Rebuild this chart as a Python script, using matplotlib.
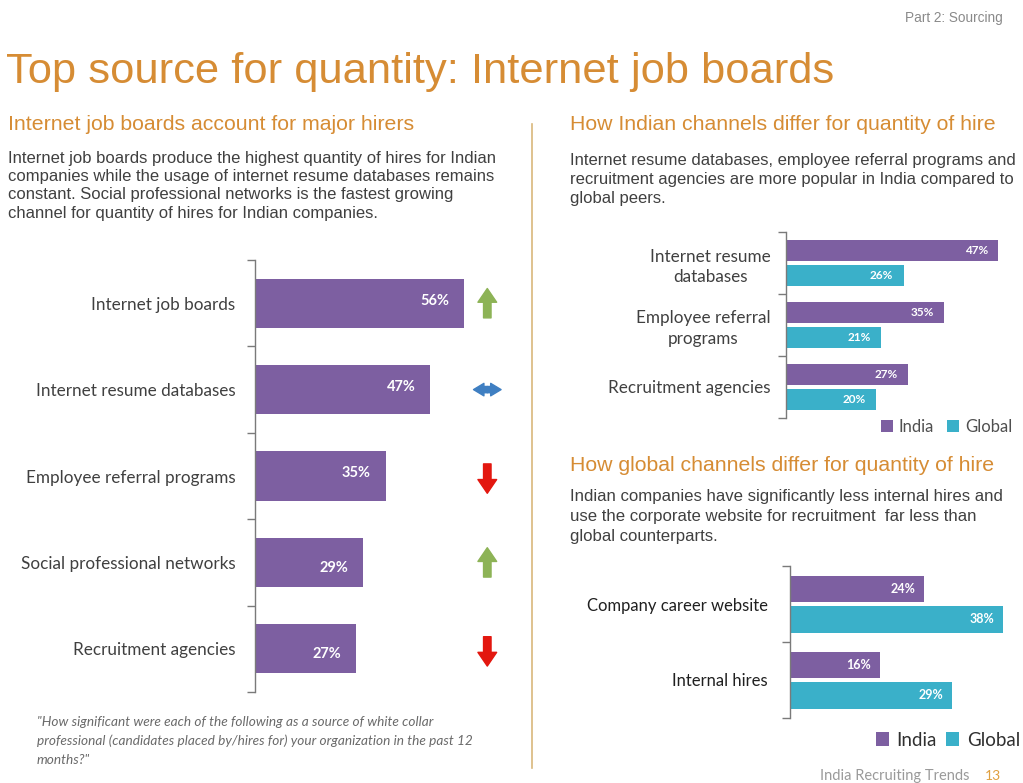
import matplotlib
matplotlib.use("Agg")
import matplotlib.pyplot as plt
from matplotlib import font_manager

# データ
left_categories = ["Internet job boards", "Internet resume databases", "Employee referral programs",
                   "Social professional networks", "Recruitment agencies"]
left_values = [56, 47, 35, 29, 27]
left_trend = ["up", "flat", "down", "up", "down"]

top_categories = ["Internet resume\ndatabases", "Employee referral\nprograms", "Recruitment agencies"]
top_india = [47, 35, 27]
top_global = [26, 21, 20]

bottom_categories = ["Company career website", "Internal hires"]
bottom_india = [24, 16]
bottom_global = [38, 29]

PURPLE = "#7D5FA1"
TEAL = "#3AB0C9"
ORANGE = "#D68C34"
GRAY_TXT = "#404040"

names = {f.name for f in font_manager.fontManager.ttflist}
NARROW = "Liberation Sans Narrow" if "Liberation Sans Narrow" in names else "Liberation Sans"
LABEL_FONT = "Lato"

W, H = 1023, 783


def fx(x):
    return x / W


def fy(y):
    return 1 - y / H


def box(x0, y0, x1, y1):
    return [fx(x0), fy(y1), (x1 - x0) / W, (y1 - y0) / H]


fig = plt.figure(figsize=(W / 100, H / 100), dpi=100)
fig.patch.set_facecolor("white")

# テキスト
fig.text(fx(1003), fy(18), "Part 2: Sourcing", ha="right", va="center", fontsize=9.8,
         color="#8a8a8a", family=NARROW)
fig.text(fx(6), fy(72), "Top source for quantity: Internet job boards", ha="left", va="center",
         fontsize=31.3, color=ORANGE, family=NARROW)
fig.text(fx(8), fy(125), "Internet job boards account for major hirers", ha="left", va="center",
         fontsize=15.3, color=ORANGE, family=NARROW)
fig.text(fx(570), fy(125), "How Indian channels differ for quantity of hire", ha="left", va="center",
         fontsize=15.3, color=ORANGE, family=NARROW)
fig.text(fx(570), fy(466), "How global channels differ for quantity of hire", ha="left", va="center",
         fontsize=15.3, color=ORANGE, family=NARROW)

left_body = ["Internet job boards produce the highest quantity of hires for Indian",
             "companies while the usage of internet resume databases remains",
             "constant. Social professional networks is the fastest growing",
             "channel for quantity of hires for Indian companies."]
for i, line in enumerate(left_body):
    fig.text(fx(8), fy(158 + i * 18.5), line, ha="left", va="center", fontsize=12,
             color=GRAY_TXT, family=NARROW)

top_body = ["Internet resume databases, employee referral programs and",
            "recruitment agencies are more popular in India compared to",
            "global peers."]
for i, line in enumerate(top_body):
    fig.text(fx(570), fy(160 + i * 19.5), line, ha="left", va="center", fontsize=12,
             color=GRAY_TXT, family=NARROW)

bottom_body = ["Indian companies have significantly less internal hires and",
               "use the corporate website for recruitment  far less than",
               "global counterparts."]
for i, line in enumerate(bottom_body):
    fig.text(fx(570), fy(497 + i * 20), line, ha="left", va="center", fontsize=12.1,
             color=GRAY_TXT, family=NARROW)

foot = ['"How significant were each of the following as a source of white collar',
        "professional (candidates placed by/hires for) your organization in the past 12",
        'months?"']
for i, line in enumerate(foot):
    fig.text(fx(37), fy(722 + i * 19), line, ha="left", va="center", fontsize=9.8,
             color="#6a6a6a", family=LABEL_FONT, style="italic")

fig.text(fx(970), fy(776), "India Recruiting Trends", ha="right", va="center", fontsize=10.5,
         color="#9a9a9a", family=LABEL_FONT)
fig.text(fx(993), fy(776), "13", ha="center", va="center", fontsize=10,
         color="#E0A040", family=LABEL_FONT)

# 区切り線
fig.add_artist(plt.Line2D([fx(532), fx(532)], [fy(124), fy(768)], color="#D9B87C", lw=1.2))


def style_axis(ax, n, pad):
    for s in ["top", "right", "bottom"]:
        ax.spines[s].set_visible(False)
    ax.spines["left"].set_color("#7a7a7a")
    ax.spines["left"].set_linewidth(1.0)
    ax.set_xticks([])
    ax.set_yticks(range(n))
    ax.set_yticks([i - 0.5 for i in range(n + 1)], minor=True)
    ax.tick_params(axis="y", which="major", length=0, pad=pad)
    ax.tick_params(axis="y", which="minor", length=6, color="#7a7a7a", width=1.0)
    ax.set_ylim(n - 0.5, -0.5)
    ax.patch.set_alpha(0)


# 左のグラフ
ax1 = fig.add_axes(box(255, 260, 516, 692))
ypos = list(range(len(left_values)))
ax1.barh(ypos, left_values, height=0.57, color=PURPLE)
ax1.set_xlim(0, 70)
style_axis(ax1, len(left_values), 14)
ax1.set_yticklabels(left_categories, fontsize=12.3, color=GRAY_TXT, family=LABEL_FONT)
for y, v in zip(ypos, left_values):
    dy = 0.06 if v < 30 else -0.03
    ax1.text(v - 4.0, y + dy, f"{v}%", ha="right", va="center", color="white",
             fontsize=10.5, fontweight="bold", family=LABEL_FONT)

arrow_colors = {"up": "#8DB356", "down": "#E3170F", "flat": "#3F7FC2"}
ax_x = 62.3
for y, t in zip(ypos, left_trend):
    c = arrow_colors[t]
    st = "simple,head_length=0.55,head_width=0.75,tail_width=0.3"
    if t == "up":
        ax1.annotate("", xy=(ax_x, y - 0.17), xytext=(ax_x, y + 0.17),
                     arrowprops=dict(arrowstyle=st, color=c, shrinkA=0, shrinkB=0, mutation_scale=18),
                     annotation_clip=False)
    elif t == "down":
        ax1.annotate("", xy=(ax_x, y + 0.2), xytext=(ax_x, y - 0.14),
                     arrowprops=dict(arrowstyle=st, color=c, shrinkA=0, shrinkB=0, mutation_scale=18),
                     annotation_clip=False)
    else:
        for d in (-1, 1):
            ax1.annotate("", xy=(ax_x + d * 3.7, y), xytext=(ax_x, y),
                         arrowprops=dict(arrowstyle="simple,head_length=0.5,head_width=0.6,tail_width=0.3",
                                         color=c, shrinkA=0, shrinkB=0, mutation_scale=15),
                         annotation_clip=False)


def grouped(ax, cats, india, glob, xmax, label_size, label_color, val_size, off, pad):
    n = len(cats)
    pos = list(range(n))
    b1 = ax.barh([p - 0.2 for p in pos], india, height=0.35, color=PURPLE, label="India")
    b2 = ax.barh([p + 0.2 for p in pos], glob, height=0.35, color=TEAL, label="Global")
    ax.set_xlim(0, xmax)
    style_axis(ax, n, pad)
    ax.set_yticklabels(cats, fontsize=label_size, color=label_color, family=LABEL_FONT,
                       multialignment="center", linespacing=1.35)
    for p, v in zip(pos, india):
        ax.text(v - off, p - 0.2, f"{v}%", ha="right", va="center", color="white",
                fontsize=val_size, fontweight="bold", family=LABEL_FONT)
    for p, v in zip(pos, glob):
        ax.text(v - off, p + 0.2, f"{v}%", ha="right", va="center", color="white",
                fontsize=val_size, fontweight="bold", family=LABEL_FONT)
    return b1, b2


# 右上のグラフ
ax2 = fig.add_axes(box(786, 232, 1012, 418))
h = grouped(ax2, top_categories, top_india, top_global, 50, 12.3, GRAY_TXT, 8.5, 2.3, 11)
fig.legend(h, ["India", "Global"], loc="center right", bbox_to_anchor=(fx(1012), fy(427)),
           ncol=2, frameon=False, handlelength=0.7, handleheight=0.7, handletextpad=0.35,
           columnspacing=0.8, prop={"family": LABEL_FONT, "size": 12}, labelcolor="#505050",
           borderpad=0, borderaxespad=0)

# 右下のグラフ
ax3 = fig.add_axes(box(790, 566, 1014, 718))
h = grouped(ax3, bottom_categories, bottom_india, bottom_global, 40, 12, "#202020", 9, 1.6, 16)
fig.legend(h, ["India", "Global"], loc="center right", bbox_to_anchor=(fx(1020), fy(740)),
           ncol=2, frameon=False, handlelength=0.7, handleheight=0.7, handletextpad=0.4,
           columnspacing=0.5, prop={"family": LABEL_FONT, "size": 13.5}, labelcolor="#303030",
           borderpad=0, borderaxespad=0)

plt.savefig("out.png", dpi=100)
